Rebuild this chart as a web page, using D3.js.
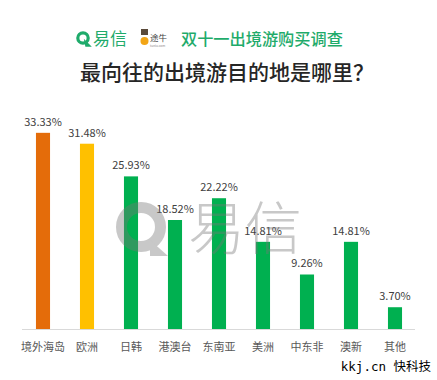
<!DOCTYPE html>
<html><head><meta charset="utf-8">
<script src="https://cdn.jsdelivr.net/npm/d3@7"></script>
<style>body{margin:0;background:#fff}svg{display:block}</style>
</head><body>
<script>
const categories = ["境外海岛","欧洲","日韩","港澳台","东南亚","美洲","中东非","澳新","其他"];
const values = [33.33,31.48,25.93,18.52,22.22,14.81,9.26,14.81,3.70];
const barColors = ["#E46C0A","#FFC000","#00B050","#00B050","#00B050","#00B050","#00B050","#00B050","#00B050"];
const title = "最向往的出境游目的地是哪里？";
const subtitle = "双十一出境游购买调查";

const W=437,H=380;
const font = "'Noto Sans CJK SC','Noto Sans',sans-serif";
const svg = d3.select("body").append("svg").attr("width",W).attr("height",H);
svg.append("rect").attr("width",W).attr("height",H).attr("fill","#fff");

const x = d3.scaleBand().domain(categories).range([21,417]).paddingInner(0.68).paddingOuter(0.34);
const y = d3.scaleLinear().domain([0,35]).range([329,123]);

// header
const green="#1fab6b";
const hg = svg.append("g");
hg.append("circle").attr("cx",83).attr("cy",38).attr("r",5.2).attr("fill","none").attr("stroke",green).attr("stroke-width",3.2);
hg.append("path").attr("d","M85,41 L90,46 L86,46 Z").attr("fill",green).attr("stroke",green).attr("stroke-width",1.5);
hg.append("text").attr("x",93).attr("y",44.5).attr("font-family",font).attr("font-size",17).attr("fill",green).text("易信");
// tuniu logo approximation
hg.append("rect").attr("x",141).attr("y",29).attr("width",7).attr("height",6).attr("fill","#5a4a3a");
hg.append("circle").attr("cx",144.5).attr("cy",41).attr("r",4).attr("fill","#f2a516");
hg.append("text").attr("x",150).attr("y",40.5).attr("font-family",font).attr("font-size",8.5).attr("fill","#444").text("途牛");
hg.append("text").attr("x",150).attr("y",46.5).attr("font-family",font).attr("font-size",3.2).attr("fill","#888").text("tuniu.com");
hg.append("text").attr("x",181).attr("y",44.5).attr("font-family",font).attr("font-size",16.2).attr("font-weight",500).attr("fill",green).text(subtitle);

svg.append("text").attr("x",227).attr("y",80).attr("text-anchor","middle").attr("font-family",font)
  .attr("font-size",21).attr("font-weight",500).attr("fill","#262626").text(title);

// axis baseline
svg.append("line").attr("x1",22).attr("x2",415).attr("y1",329.5).attr("y2",329.5).attr("stroke","#d9d9d9").attr("stroke-width",1);

// bars
svg.append("g").selectAll("rect").data(values).join("rect")
  .attr("x",(d,i)=>x(categories[i])).attr("width",x.bandwidth())
  .attr("y",d=>y(d)).attr("height",d=>y(0)-y(d)).attr("fill",(d,i)=>barColors[i]);

// value labels
svg.append("g").selectAll("text").data(values).join("text")
  .attr("x",(d,i)=>x(categories[i])+x.bandwidth()/2).attr("y",d=>y(d)-7)
  .attr("text-anchor","middle").attr("font-family",font).attr("font-size",11).attr("fill","#404040")
  .text(d=>d.toFixed(2)+"%");

// category axis labels
svg.append("g").selectAll("text").data(categories).join("text")
  .attr("x",d=>x(d)+x.bandwidth()/2).attr("y",351)
  .attr("text-anchor","middle").attr("font-family",font).attr("font-size",11).attr("fill","#595959")
  .text(d=>d);

// watermark
const wm = svg.append("g").attr("opacity",0.4);
wm.append("circle").attr("cx",141).attr("cy",227).attr("r",19.5).attr("fill","none").attr("stroke","#777").attr("stroke-width",11);
wm.append("path").attr("d","M150,240 L168,256 L150,256 Z").attr("fill","#777");
wm.append("text").attr("x",188).attr("y",249).attr("font-family",font).attr("font-size",57).attr("font-weight",300).attr("fill","#777").text("易信");

// footer
svg.append("text").attr("x",431).attr("y",371).attr("text-anchor","end").attr("font-family","'DejaVu Sans Mono','Noto Sans CJK SC',monospace")
  .attr("font-size",12.5).attr("fill","#000").text("kkj.cn 快科技");
</script>
</body></html>
